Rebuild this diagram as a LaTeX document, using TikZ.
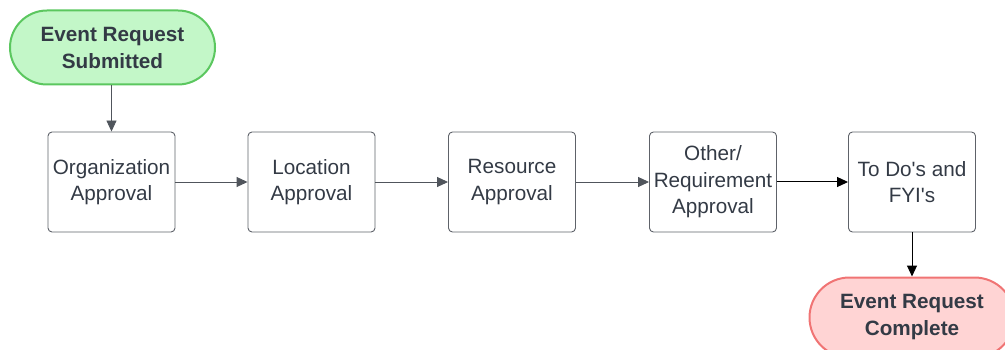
\documentclass[tikz,border=0pt]{standalone}
\usepackage{fontspec}
\newfontfamily\lsans{Liberation Sans}
\usetikzlibrary{arrows.meta}
\definecolor{txt}{HTML}{333A45}
\definecolor{boxline}{HTML}{5E6269}
\definecolor{gfill}{HTML}{C3F7C8}
\definecolor{gline}{HTML}{5BC75F}
\definecolor{rfill}{HTML}{FFD4D4}
\definecolor{rline}{HTML}{F07474}
\definecolor{arr}{HTML}{50555C}
\tikzset{
  stepbox/.style={draw=boxline, line width=0.9pt, rounded corners=4pt, minimum width=127pt, minimum height=100pt, inner sep=0pt, align=center, text=txt, font=\lsans\fontsize{20.7}{26.5}\selectfont},
  pill/.style={line width=2pt, rounded corners=37pt, minimum width=205pt, minimum height=74pt, inner sep=0pt, align=center, text=txt, font=\lsans\bfseries\fontsize{20.7}{27}\selectfont},
  conn/.style={draw=arr, line width=0.9pt, -{Triangle[length=11pt,width=10pt]}},
  connd/.style={draw=black, line width=1pt, -{Triangle[length=11pt,width=10pt]}}
}
\begin{document}
\begin{tikzpicture}[x=1pt,y=-1pt]
\useasboundingbox (0,0) rectangle (1005,350);
\begin{scope}
\clip (0,0) rectangle (1005,350);
\node[pill, draw=gline, fill=gfill] (start) at (112.5,47.5) {Event Request\\Submitted};
\node[stepbox] (b1) at (111.5,182) {Organization\\Approval};
\node[stepbox] (b2) at (311.5,182) {Location\\Approval};
\node[stepbox] (b3) at (512,182) {Resource\\Approval};
\node[stepbox] (b4) at (713,182) {Other/\\Requirement\\Approval};
\node[stepbox] (b5) at (912,182) {To Do's and\\FYI's};
\node[pill, draw=rline, fill=rfill, minimum height=80pt, rounded corners=40pt] (end) at (912,317.5) {Event Request\\Complete};
\end{scope}
\draw[conn] (start.south -| b1.north) -- (b1.north);
\draw[conn] (b1) -- (b2);
\draw[conn] (b2) -- (b3);
\draw[conn] (b3) -- (b4);
\draw[connd] (b4) -- (b5);
\draw[connd] (b5) -- (end);
\end{tikzpicture}
\end{document}
